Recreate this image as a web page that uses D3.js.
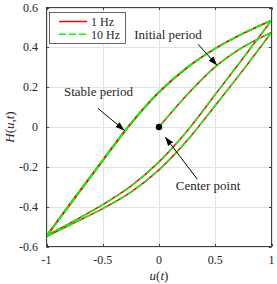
<!DOCTYPE html>
<html>
<head>
<meta charset="utf-8">
<script src="https://cdn.jsdelivr.net/npm/d3@7"></script>
<style>
  body { margin: 0; background: #fff; }
  text { font-family: "Liberation Serif", "Times New Roman", serif; fill: #262626; }
</style>
</head>
<body>
<script>
// sample points of the input u(t) along each branch
var uInit = [0, 0.25, 0.5, 0.75, 1];
var uUp = [-1, -0.75, -0.5, -0.25, 0, 0.25, 0.5, 0.75, 1];
var uDown = [1, 0.75, 0.5, 0.25, 0, -0.25, -0.5, -0.75, -1];

// output H(u,t) (1 Hz and 10 Hz coincide)
var hInit = [0, 0.162, 0.302, 0.402, 0.475];
var hDown1 = [0.475, 0.288, 0.108, -0.068, -0.215, -0.327, -0.41, -0.48, -0.55];
var hUp1 = [-0.55, -0.36, -0.171, 0.015, 0.173, 0.297, 0.393, 0.47, 0.535];
var hDown2 = [0.535, 0.348, 0.163, -0.02, -0.175, -0.297, -0.39, -0.47, -0.545];
var hUp2 = [-0.545, -0.354, -0.165, 0.02, 0.177, 0.3, 0.395, 0.471, 0.535];

var seriesNames = ["1 Hz", "10 Hz"];
var xTicks = [-1, -0.5, 0, 0.5, 1];
var yTicks = [-0.6, -0.4, -0.2, 0, 0.2, 0.4, 0.6];
var xTickLabels = ["-1", "-0.5", "0", "0.5", "1"];
var yTickLabels = ["-0.6", "-0.4", "-0.2", "0", "0.2", "0.4", "0.6"];

var annotations = [
  {text: "Initial period", tx: 0.08, ty: 0.44, from: [0.348, 0.415], to: [0.516, 0.31]},
  {text: "Stable period", tx: -0.538, ty: 0.155, from: [-0.544, 0.094], to: [-0.307, -0.017]},
  {text: "Center point", tx: 0.436, ty: -0.3175, from: [0.34, -0.262], to: [0.055, -0.05]}
];

var W = 277, H = 284;
var plotL = 46.5, plotR = 271.5, plotT = 7.5, plotB = 246.5;

var x = d3.scaleLinear().domain([-1, 1]).range([plotL, plotR]);
var y = d3.scaleLinear().domain([-0.6, 0.6]).range([plotB, plotT]);

var svg = d3.select("body").append("svg")
    .attr("width", W)
    .attr("height", H);

var defs = svg.append("defs");
defs.append("marker")
    .attr("id", "head")
    .attr("markerUnits", "userSpaceOnUse")
    .attr("markerWidth", 10).attr("markerHeight", 10)
    .attr("viewBox", "0 -5 10 10")
    .attr("refX", 9).attr("refY", 0)
    .attr("orient", "auto")
  .append("path")
    .attr("d", "M0,-3.2L9,0L0,3.2Z")
    .attr("fill", "#000");

defs.append("clipPath").attr("id", "clip")
  .append("rect")
    .attr("x", plotL).attr("y", plotT)
    .attr("width", plotR - plotL).attr("height", plotB - plotT);

// grid
svg.append("g").selectAll("line").data(xTicks).enter().append("line")
    .attr("x1", function(d) { return Math.round(x(d)) + 0.5; })
    .attr("x2", function(d) { return Math.round(x(d)) + 0.5; })
    .attr("y1", plotT).attr("y2", plotB)
    .attr("stroke", "#e3e3e3").attr("stroke-width", 1);
svg.append("g").selectAll("line").data(yTicks).enter().append("line")
    .attr("y1", function(d) { return Math.round(y(d)) + 0.5; })
    .attr("y2", function(d) { return Math.round(y(d)) + 0.5; })
    .attr("x1", plotL).attr("x2", plotR)
    .attr("stroke", "#e3e3e3").attr("stroke-width", 1);

// branches
var branches = [
  [uInit, hInit],
  [uDown, hDown1],
  [uUp, hUp1],
  [uDown, hDown2],
  [uUp, hUp2]
];

var line = d3.line()
    .x(function(d) { return x(d[0]); })
    .y(function(d) { return y(d[1]); })
    .curve(d3.curveCatmullRom.alpha(0.5));

var plot = svg.append("g").attr("clip-path", "url(#clip)");

var styles = [
  {color: "#ff0000", dash: null},
  {color: "#00ff00", dash: "7,3"}
];

seriesNames.forEach(function(name, si) {
  branches.forEach(function(b) {
    var pts = b[0].map(function(u, i) { return [u, b[1][i]]; });
    plot.append("path")
        .attr("d", line(pts))
        .attr("fill", "none")
        .attr("stroke", styles[si].color)
        .attr("stroke-width", 1.5)
        .attr("stroke-dasharray", styles[si].dash);
  });
});

// center point
svg.append("circle")
    .attr("cx", x(0)).attr("cy", y(0))
    .attr("r", 3.2)
    .attr("fill", "#000");

// axes box + inward ticks
svg.append("rect")
    .attr("x", plotL).attr("y", plotT)
    .attr("width", plotR - plotL).attr("height", plotB - plotT)
    .attr("fill", "none").attr("stroke", "#404040").attr("stroke-width", 1);

var tl = 2.5;
xTicks.forEach(function(d) {
  var px = Math.round(x(d)) + 0.5;
  svg.append("line").attr("x1", px).attr("x2", px).attr("y1", plotB).attr("y2", plotB - tl).attr("stroke", "#404040");
  svg.append("line").attr("x1", px).attr("x2", px).attr("y1", plotT).attr("y2", plotT + tl).attr("stroke", "#404040");
});
yTicks.forEach(function(d) {
  var py = Math.round(y(d)) + 0.5;
  svg.append("line").attr("y1", py).attr("y2", py).attr("x1", plotL).attr("x2", plotL + tl).attr("stroke", "#404040");
  svg.append("line").attr("y1", py).attr("y2", py).attr("x1", plotR).attr("x2", plotR - tl).attr("stroke", "#404040");
});

svg.append("g").selectAll("text").data(xTicks).enter().append("text")
    .attr("x", function(d) { return x(d); })
    .attr("y", 264)
    .attr("text-anchor", "middle")
    .attr("font-size", 12)
    .text(function(d, i) { return xTickLabels[i]; });

svg.append("g").selectAll("text").data(yTicks).enter().append("text")
    .attr("x", 38)
    .attr("y", function(d) { return y(d) + 4; })
    .attr("text-anchor", "end")
    .attr("font-size", 12)
    .text(function(d, i) { return yTickLabels[i]; });

// axis labels
var xl = svg.append("text")
    .attr("x", (plotL + plotR) / 2)
    .attr("y", 280)
    .attr("text-anchor", "middle")
    .attr("font-size", 13);
xl.append("tspan").attr("font-style", "italic").text("u");
xl.append("tspan").text("(");
xl.append("tspan").attr("font-style", "italic").text("t");
xl.append("tspan").text(")");

var yl = svg.append("text")
    .attr("transform", "translate(13.5," + ((plotT + plotB) / 2) + ") rotate(-90)")
    .attr("text-anchor", "middle")
    .attr("font-size", 13);
yl.append("tspan").attr("font-style", "italic").text("H");
yl.append("tspan").text("(");
yl.append("tspan").attr("font-style", "italic").text("u");
yl.append("tspan").text(",");
yl.append("tspan").attr("font-style", "italic").text("t");
yl.append("tspan").text(")");

// annotations
annotations.forEach(function(a) {
  svg.append("text")
      .attr("x", x(a.tx))
      .attr("y", y(a.ty))
      .attr("text-anchor", "middle")
      .attr("font-size", 13)
      .text(a.text);
  svg.append("line")
      .attr("x1", x(a.from[0])).attr("y1", y(a.from[1]))
      .attr("x2", x(a.to[0])).attr("y2", y(a.to[1]))
      .attr("stroke", "#000").attr("stroke-width", 1)
      .attr("marker-end", "url(#head)");
});

// legend
var lg = svg.append("g");
lg.append("rect")
    .attr("x", 49.5).attr("y", 12.5)
    .attr("width", 76).attr("height", 31)
    .attr("fill", "#fff").attr("stroke", "#404040").attr("stroke-width", 0.8);
seriesNames.forEach(function(name, i) {
  var ly = 21.5 + i * 12.8;
  lg.append("line")
      .attr("x1", 59).attr("x2", 87)
      .attr("y1", ly).attr("y2", ly)
      .attr("stroke", styles[i].color)
      .attr("stroke-width", 1.5)
      .attr("stroke-dasharray", styles[i].dash);
  lg.append("text")
      .attr("x", 91).attr("y", ly + 4.3)
      .attr("font-size", 12)
      .text(name);
});
</script>
</body>
</html>
